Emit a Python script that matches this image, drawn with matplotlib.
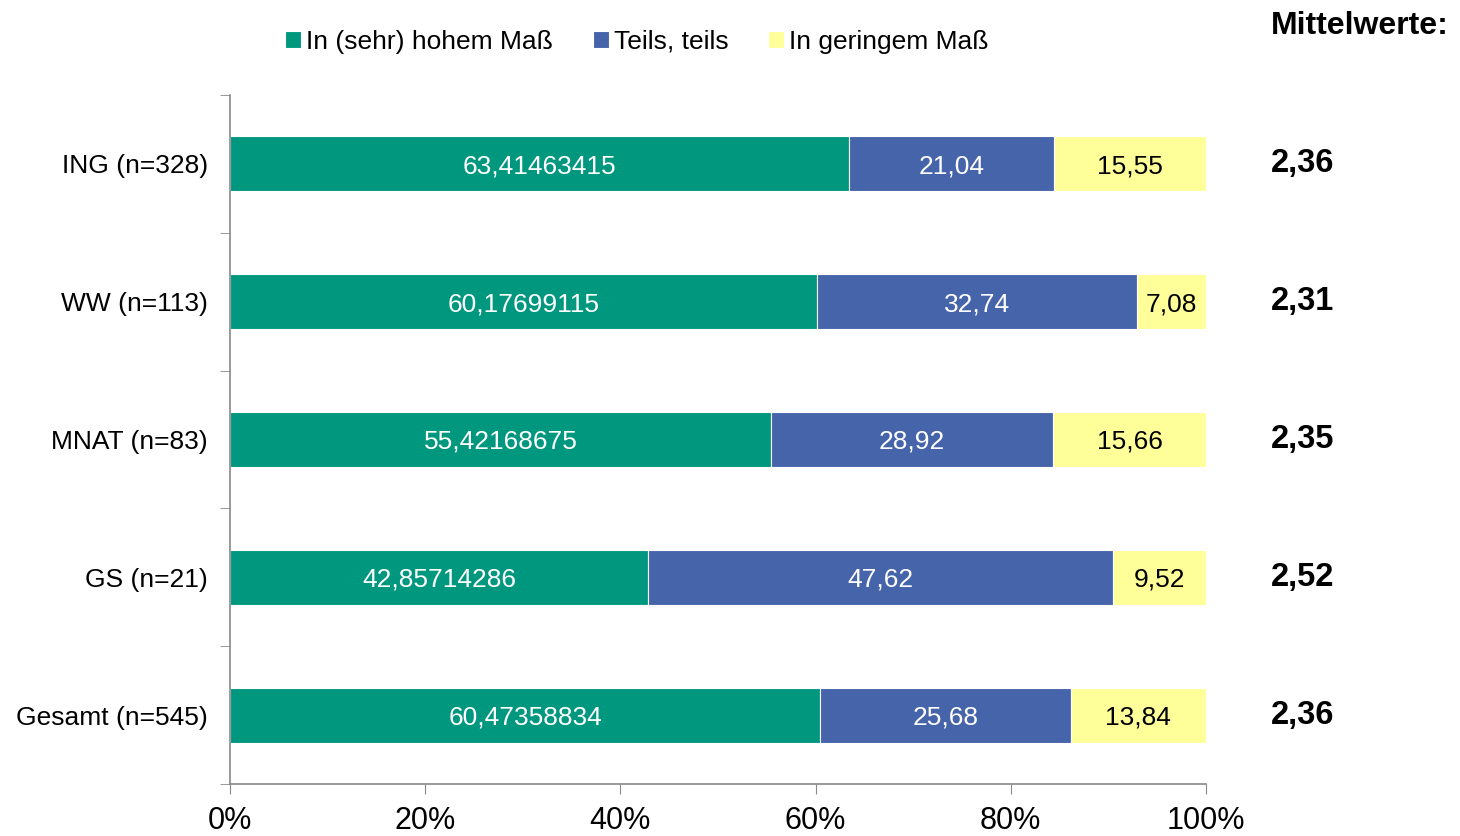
import numpy as np
import matplotlib.pyplot as plt
from matplotlib.ticker import MultipleLocator, FixedLocator

plt.rcParams['font.family'] = ['Liberation Sans', 'DejaVu Sans']

categories = ['ING (n=328)', 'WW (n=113)', 'MNAT (n=83)', 'GS (n=21)', 'Gesamt (n=545)']
hoch = [63.41463415, 60.17699115, 55.42168675, 42.85714286, 60.47358834]
teils = [21.04, 32.74, 28.92, 47.62, 25.68]
gering = [15.55, 7.08, 15.66, 9.52, 13.84]
mittelwerte = ['2,36', '2,31', '2,35', '2,52', '2,36']

series_names = ['In (sehr) hohem Maß', 'Teils, teils', 'In geringem Maß']
colors = ['#00977F', '#4664AA', '#FFFF99']
text_colors = ['white', 'white', 'black']
decimals = [8, 2, 2]

fig = plt.figure(figsize=(14.6, 8.36), dpi=100)
ax = fig.add_axes([230/1460, 1-784/836, 976/1460, (784-95)/836])

y = np.arange(len(categories))
left = np.zeros(len(categories))
for vals, name, col, tcol, dec in zip([hoch, teils, gering], series_names, colors, text_colors, decimals):
    vals = np.array(vals)
    ax.barh(y, vals, left=left, height=0.4, color=col, edgecolor='white', linewidth=0.8, label=name)
    for yi, l, v in zip(y, left, vals):
        txt = f'{v:.{dec}f}'.replace('.', ',')
        ax.text(l + v/2, yi, txt, ha='center', va='center_baseline', color=tcol, fontsize=19)
    left += vals

ax.set_xlim(0, 100)
ax.set_ylim(len(categories)-0.5, -0.5)
ax.xaxis.set_major_locator(MultipleLocator(20))
ax.set_xticklabels([f'{int(t)}%' for t in ax.get_xticks()])
ax.set_yticks(y)
ax.set_yticklabels(categories)
ax.yaxis.set_minor_locator(FixedLocator(np.arange(-0.5, len(categories), 1)))
ax.tick_params(axis='y', which='major', length=0, labelsize=19, pad=16)
ax.tick_params(axis='y', which='minor', length=7, color='#888888', direction='out')
ax.tick_params(axis='x', length=7, color='#888888', labelsize=22, pad=9)

for s in ['top', 'right']:
    ax.spines[s].set_visible(False)
for s in ['left', 'bottom']:
    ax.spines[s].set_color('#888888')
    ax.spines[s].set_linewidth(1.2)

for yi, m in zip(y, mittelwerte):
    ax.text(1.066, yi, m, transform=ax.get_yaxis_transform(), ha='left', va='center',
            fontsize=23.5, fontweight='bold')
fig.text(1271/1460, 1-22/836, 'Mittelwerte:', ha='left', va='center_baseline', fontsize=23, fontweight='bold')

fig.legend(loc='center', bbox_to_anchor=(637/1460, 1-42/836), ncol=3, frameon=False,
           fontsize=19, handlelength=0.6, handleheight=0.6, handletextpad=0.2, columnspacing=1.5)

fig.savefig('out.png', dpi=100)
